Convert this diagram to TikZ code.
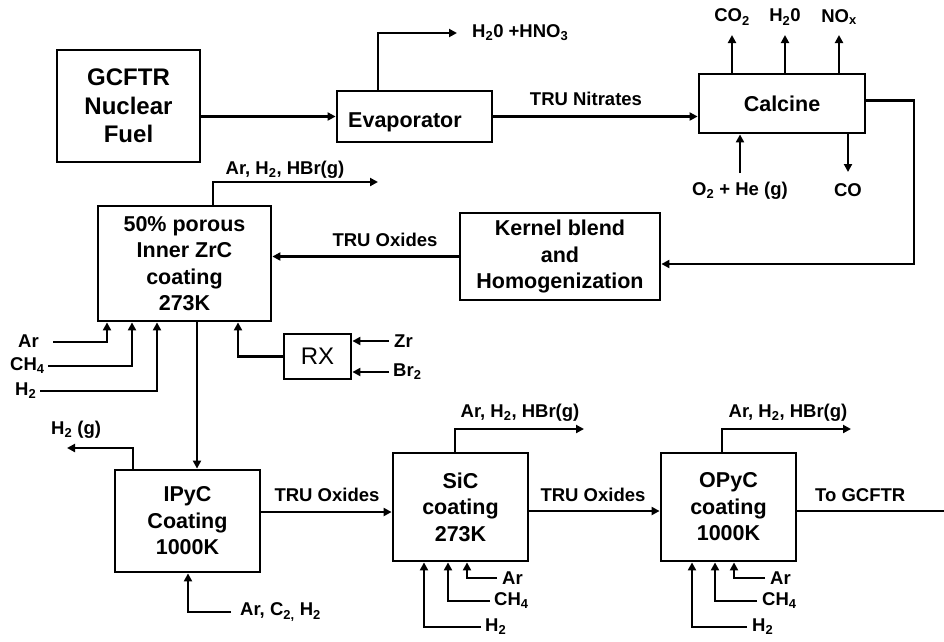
\documentclass[tikz,border=0pt]{standalone}
\usepackage{fontspec}
\setmainfont{Liberation Sans}
\usetikzlibrary{arrows.meta}
\tikzset{
  box/.style={draw, line width=2.8pt, font=\bfseries\fontsize{21.5}{26.5}\selectfont, align=center, inner sep=0pt},
  flow/.style={line width=2.8pt, -{Triangle[length=8pt,width=8pt]}},
  pipe/.style={line width=2.8pt},
  lbl/.style={font=\bfseries\fontsize{18.5}{22}\selectfont, inner sep=0pt}
}
\begin{document}
\begin{tikzpicture}[x=1pt,y=-1pt]
\useasboundingbox (0,0) rectangle (944,641);
% boxes
\node[box, minimum width=143pt, minimum height=112pt, font=\bfseries\fontsize{24}{28.5}\selectfont] (gcftr) at (128.5,106) {GCFTR\\Nuclear\\Fuel};
\node[box, minimum width=155pt, minimum height=51pt] (evap) at (414.5,116.5) {};
\node[lbl, anchor=west, font=\bfseries\fontsize{21.5}{26.5}\selectfont] (evapt) at (348,122) {Evaporator};
\node[box, minimum width=166pt, minimum height=59pt] (calc) at (782,103.5) {Calcine};
\node[box, minimum width=200pt, minimum height=87pt] (kernel) at (560,256.5) {Kernel blend\\and\\Homogenization};
\node[box, minimum width=173pt, minimum height=115pt] (porous) at (184.5,263.5) {50\% porous\\Inner ZrC\\coating\\273K};
\node[box, minimum width=67pt, minimum height=45pt, font=\fontsize{24}{28}\selectfont] (rx) at (317.5,356.5) {RX};
\node[box, minimum width=145pt, minimum height=102pt] (ipyc) at (187.5,521) {IPyC\\Coating\\1000K};
\node[box, minimum width=135pt, minimum height=108pt] (sic) at (460.5,507) {SiC\\coating\\273K};
\node[box, minimum width=135pt, minimum height=108pt] (opyc) at (728.5,507) {OPyC\\coating\\1000K};

% labels
\node[lbl, anchor=west] (lh2o) at (472,33) {H\textsubscript{2}0 +HNO\textsubscript{3}};
\node[lbl] (lnitr) at (586,99) {TRU Nitrates};
\node[lbl] (lco2) at (732,17) {CO\textsubscript{2}};
\node[lbl] (lh2o2) at (785,17) {H\textsubscript{2}0};
\node[lbl] (lnox) at (839,17) {NO\textsubscript{x}};
\node[lbl] (lo2) at (740,191) {O\textsubscript{2} + He (g)};
\node[lbl] (lco) at (848,190) {CO};
\node[lbl] (lox1) at (385,240) {TRU Oxides};
\node[lbl] (lhbr1) at (285,170) {Ar, H\textsubscript{2}, HBr(g)};
\node[lbl, anchor=west] (lar1) at (18,341) {Ar};
\node[lbl, anchor=west] (lch41) at (10,366) {CH\textsubscript{4}};
\node[lbl, anchor=west] (lh21) at (15,391) {H\textsubscript{2}};
\node[lbl, anchor=west] (lzr) at (394,341) {Zr};
\node[lbl, anchor=west] (lbr) at (393,372) {Br\textsubscript{2}};
\node[lbl, anchor=west] (lh2g) at (51,430) {H\textsubscript{2} (g)};
\node[lbl, anchor=west] (lac) at (240,612) {Ar, C\textsubscript{2,} H\textsubscript{2}};
\node[lbl] (lox2) at (327,495) {TRU Oxides};
\node[lbl] (lox3) at (593,495) {TRU Oxides};
\node[lbl, anchor=west] (lto) at (815,495) {To GCFTR};
\node[lbl] (lhbr2) at (520,413) {Ar, H\textsubscript{2}, HBr(g)};
\node[lbl] (lhbr3) at (788,413) {Ar, H\textsubscript{2}, HBr(g)};
\node[lbl, anchor=west] (lar2) at (502,578) {Ar};
\node[lbl, anchor=west] (lch42) at (494,601) {CH\textsubscript{4}};
\node[lbl, anchor=west] (lh22) at (485,627) {H\textsubscript{2}};
\node[lbl, anchor=west] (lar3) at (770,578) {Ar};
\node[lbl, anchor=west] (lch43) at (762,601) {CH\textsubscript{4}};
\node[lbl, anchor=west] (lh23) at (752,627) {H\textsubscript{2}};

% coordinates
\coordinate (e1) at (378,33);
\coordinate (e2) at (457,33);
\coordinate (c1) at (732,35);
\coordinate (c2) at (785,35);
\coordinate (c3) at (839,35);
\coordinate (o2) at (740,173);
\coordinate (co) at (848,172);
\coordinate (k1) at (914,264);
\coordinate (p1) at (213,182);
\coordinate (p2) at (378,182);
\coordinate (ar1) at (53,342);
\coordinate (ch1) at (48,366);
\coordinate (hh1) at (40,391);
\coordinate (zr) at (389,341);
\coordinate (br) at (389,372);
\coordinate (g1) at (67,448);
\coordinate (ac) at (231,612);
\coordinate (s1) at (584,429);
\coordinate (ar2) at (497,578);
\coordinate (ch2) at (490,601);
\coordinate (hh2) at (481,627);
\coordinate (t1) at (851,429);
\coordinate (ar3) at (765,578);
\coordinate (ch3) at (757,601);
\coordinate (hh3) at (747,627);
\coordinate (out) at (944,511);

% connectors
\draw[flow] (gcftr.east |- evap.west) -- (evap.west);
\draw[flow] (evap.north -| e1) -- (e1) -- (e2);
\draw[flow] (evap.east) -- (evap.east -| calc.west);
\draw[flow] (calc.north -| c1) -- (c1);
\draw[flow] (calc.north -| c2) -- (c2);
\draw[flow] (calc.north -| c3) -- (c3);
\draw[flow] (o2) -- (o2 |- calc.south);
\draw[flow] (co |- calc.south) -- (co);
\draw[flow] ([yshift=3pt]calc.east) -| (k1) -- (k1 -| kernel.east);
\draw[flow] (kernel.west) -- (kernel.west -| porous.east);
\draw[flow] (porous.north -| p1) -- (p1) -- (p2);
\draw[flow] (ar1) -| (porous.south -| 107,0);
\draw[flow] (ch1) -| (porous.south -| 132,0);
\draw[flow] (hh1) -| (porous.south -| 157,0);
\draw[flow] (rx.west) -| (porous.south -| 238,0);
\draw[flow] (zr) -- (zr -| rx.east);
\draw[flow] (br) -- (br -| rx.east);
\draw[flow] (porous.south -| 197,0) -- (ipyc.north -| 197,0);
\draw[flow] (ipyc.north -| 133,0) |- (g1);
\draw[flow] (ac) -| (ipyc.south -| 188,0);
\draw[flow] (ipyc.east |- 0,512) -- (sic.west |- 0,512);
\draw[flow] (sic.north -| 455,0) |- (s1);
\draw[flow] (ar2) -| (sic.south -| 467,0);
\draw[flow] (ch2) -| (sic.south -| 448,0);
\draw[flow] (hh2) -| (sic.south -| 424,0);
\draw[flow] (sic.east |- 0,511) -- (opyc.west |- 0,511);
\draw[flow] (opyc.north -| 722,0) |- (t1);
\draw[flow] (ar3) -| (opyc.south -| 734,0);
\draw[flow] (ch3) -| (opyc.south -| 715,0);
\draw[flow] (hh3) -| (opyc.south -| 692,0);
\draw[pipe] (opyc.east |- out) -- (out);
\end{tikzpicture}
\end{document}
